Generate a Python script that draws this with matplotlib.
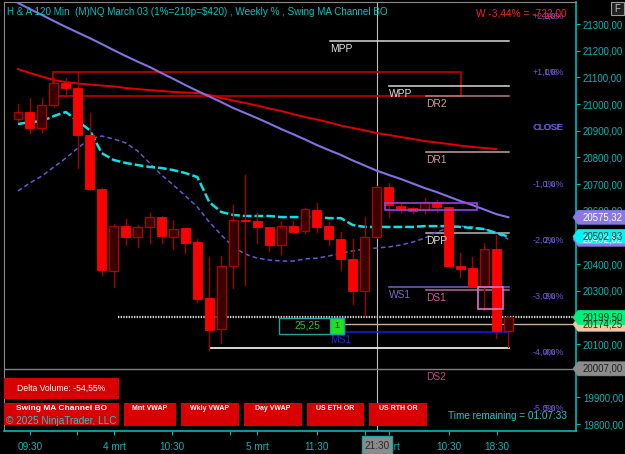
import matplotlib
matplotlib.use('Agg')
import matplotlib.pyplot as plt
from matplotlib.patches import Rectangle, Polygon

plt.rcParams['font.family'] = ['Liberation Sans', 'DejaVu Sans']

# ---------------- data (120 min bars) ----------------
opens = [20944, 20970, 20910, 20996, 21079, 21060, 20884, 20681, 20374, 20543,
         20501, 20539, 20576, 20501, 20535, 20483, 20273, 20156, 20393, 20565,
         20561, 20539, 20471, 20543, 20524, 20603, 20543, 20494, 20419, 20299,
         20501, 20689, 20618, 20610, 20602, 20633, 20614, 20393, 20385, 20314,
         20456, 20149]
highs = [21000, 21022, 21022, 21098, 21098, 21120, 20966, 20685, 20550, 20569,
         20546, 20591, 20580, 20565, 20535, 20494, 20426, 20430, 20621, 20734,
         20591, 20539, 20561, 20561, 20610, 20629, 20558, 20520, 20494, 20576,
         20692, 20704, 20629, 20614, 20648, 20640, 20614, 20441, 20426, 20479,
         20509, 20205]
lows = [20936, 20891, 20895, 20989, 21034, 20760, 20678, 20359, 20314, 20471,
        20464, 20479, 20479, 20456, 20441, 20258, 20078, 20104, 20310, 20321,
        20479, 20449, 20438, 20516, 20516, 20520, 20471, 20378, 20250, 20209,
        20497, 20576, 20595, 20591, 20591, 20595, 20389, 20351, 20314, 20228,
        20123, 20089]
closes = [20970, 20910, 20996, 21079, 21060, 20884, 20681, 20378, 20543, 20501,
          20539, 20576, 20505, 20531, 20479, 20269, 20153, 20393, 20565, 20562,
          20539, 20471, 20543, 20520, 20606, 20539, 20494, 20419, 20299, 20501,
          20689, 20621, 20606, 20599, 20633, 20614, 20393, 20381, 20314, 20456,
          20149, 20199.5]

ma_cyan = [20925, 20932, 20936, 20955, 20970, 20936, 20902, 20816, 20790, 20779,
           20771, 20764, 20760, 20752, 20741, 20726, 20632, 20595, 20584, 20580,
           20580, 20580, 20576, 20576, 20576, 20576, 20572, 20572, 20546, 20539,
           20539, 20539, 20539, 20539, 20542, 20542, 20542, 20539, 20535, 20531,
           20516, 20502.93]
ma_slow_dash = [20674, 20704, 20730, 20764, 20797, 20835, 20869, 20880, 20869, 20854,
                20824, 20779, 20734, 20696, 20655, 20614, 20557, 20509, 20464, 20437,
                20422, 20415, 20411, 20411, 20419, 20422, 20430, 20441, 20449, 20456,
                20460, 20464, 20471, 20482, 20497, 20520, 20535, 20542, 20539, 20531,
                20516, 20492.82]
ma_trend = [21379, 21356, 21334, 21311, 21289, 21268, 21247, 21225, 21202, 21180,
            21159, 21139, 21116, 21094, 21071, 21049, 21028, 21007, 20985, 20966,
            20947, 20927, 20906, 20887, 20867, 20846, 20827, 20809, 20788, 20769,
            20750, 20734, 20719, 20702, 20685, 20670, 20653, 20636, 20621, 20604,
            20587, 20575.32]
ma_red = [21131, 21116, 21103, 21090, 21082, 21077, 21073, 21069, 21066, 21060,
          21056, 21052, 21049, 21045, 21043, 21041, 21034, 21022, 21013, 21004,
          20994, 20983, 20974, 20962, 20951, 20942, 20931, 20919, 20910, 20901,
          20891, 20884, 20876, 20869, 20861, 20856, 20850, 20844, 20839, 20835,
          20831]

# pivot levels: name, price, start bar, line colour, label colour
level_names = ['MPP', 'WPP', 'DR2', 'DR1', 'DPP', 'WS1', 'DS1', 'MS1', 'DS2']
level_prices = [21236, 21067.5, 21030, 20820, 20516, 20314, 20302.5, 20145, 20007]
level_starts = [26.1, 31.0, 34.1, 34.1, 34.1, 31.0, 34.1, 26.1, 34.1]
level_colors = ['#d8d8d8', '#d8d8d8', '#b08080', '#c8a0a0', '#b8b8b8', '#7060c8',
                '#c060a0', '#1020e8', '#808080']
label_colors = ['#e0e0e0', '#e0e0e0', '#d09a9a', '#d09a9a', '#e0e0e0', '#7a68d0',
                '#c8589a', '#1a2ae0', '#c04888']
level_end = 41.05

week_close = 20910
pct_steps = [2, 1, 0, -1, -2, -3, -4, -5]
pct_text = ['+2,0%', '+1,0%', 'CLOSE', '-1,0%', '-2,0%', '-3,0%', '-4,0%', '-5,0%']
pct_points = 210

last_price = 20199.5
tan_level = 20174.25
swing_low = 20085
cross_price = 20007
cross_bar = 30.0

ytick_vals = list(range(19800, 21301, 100))
xtick_pos = [1.0, 4.93, 8.03, 12.9, 17.73, 20.0, 25.0, 29.0, 31.0, 36.04, 40.05]
xtick_lab = ['09:30', '', '4 mrt', '10:30', '', '5 mrt', '11:30', '', '6 mrt', '10:30', '18:30']

tags = [(20575.32, '20575,32', '#8a78e6', '#ffffff'),
        (20492.82, '20492,82', '#8a78e6', '#ffffff'),
        (20502.93, '20502,93', '#00f4f4', '#003a3a'),
        (20174.25, '20174,25', '#f2c8a0', '#3a2a1a'),
        (20199.50, '20199,50', '#00f080', '#002a10'),
        (20007.00, '20007,00', '#8c8c8c', '#202020')]

# ---------------- figure ----------------
W, H = 625, 454
fig = plt.figure(figsize=(6.25, 4.54), dpi=100, facecolor='black')


def fx(x):
    return x / W


def fy(y):
    return 1 - y / H


ax = fig.add_axes([fx(4), fy(431), (576 - 4) / W, (431 - 2) / H])
ax.set_facecolor('black')
ax.set_xlim(-1.17, 46.66)
ax.set_ylim(19773.75, 21382.5)

cyan = '#00b8b8'
for s in ['left', 'top']:
    ax.spines[s].set_color('#8a8a8a')
for s in ['right', 'bottom']:
    ax.spines[s].set_color(cyan)
    ax.spines[s].set_linewidth(1.2)

ax.yaxis.tick_right()
ax.set_yticks(ytick_vals)
ax.set_yticklabels([f"{v:.2f}".replace('.', ',') for v in ytick_vals])
ax.tick_params(axis='y', colors=cyan, labelsize=6.9, length=3, pad=2, width=0.8)
ax.set_xticks(xtick_pos)
ax.set_xticklabels(xtick_lab)
ax.tick_params(axis='x', colors=cyan, labelsize=7.2, length=3, pad=5, width=0.8)

# crosshair
ax.axvline(cross_bar, color='#bdbdbd', lw=0.8, zorder=1)
ax.axhline(cross_price, color='#808080', lw=1.0, zorder=1)

# red box
ax.add_patch(Rectangle((2.93, 21030), 37.04 - 2.93, 21120 - 21030, fill=False,
                       ec='#c00000', lw=1.2, zorder=2))

# moving averages
n = len(opens)
ax.plot(range(len(ma_red)), ma_red, color='#e00000', lw=1.4, zorder=3)
ax.plot(range(n), ma_trend, color='#8470e0', lw=1.5, zorder=3)
ax.plot(range(n), ma_slow_dash, color='#6a55d0', lw=1.1, ls=(0, (3, 2)), zorder=3)
ax.plot(range(n), ma_cyan, color='#10e0e0', lw=1.8, ls=(0, (3.5, 1.2)), zorder=3)

# levels
for name, p, s, lc, tc in zip(level_names, level_prices, level_starts, level_colors, label_colors):
    if name != 'DS2':
        ax.plot([s, level_end], [p, p], color=lc, lw=1.1, zorder=2)
    ax.annotate(name, (s, p), xytext=(0, -2), textcoords='offset points',
                color=tc, fontsize=7.4, ha='left', va='top', zorder=6)

ax.plot([22, 46.66], [tan_level, tan_level], color='#c8b090', lw=1.0, zorder=2)
ax.plot([16.05, level_end], [swing_low, swing_low], color='#e8e8e8', lw=1.3, zorder=2)
ax.plot([8.36, 46.66], [last_price, last_price], color='#d8d8d8', lw=1.6,
        ls=(0, (0.6, 0.6)), zorder=4)

# purple and pink boxes
ax.add_patch(Rectangle((30.7, 20602.5), 38.4 - 30.7, 20629 - 20602.5, fill=False,
                       ec='#9a40e0', lw=1.2, zorder=5))
ax.add_patch(Rectangle((38.5, 20231), 40.55 - 38.5, 20314 - 20231, fill=False,
                       ec='#e070c8', lw=1.2, zorder=5))

# candles
bw = 0.75
for i, (o, h, l, c) in enumerate(zip(opens, highs, lows, closes)):
    up = c >= o
    ax.plot([i, i], [l, h], color='#a00000', lw=1.0, zorder=4)
    lo, hi = min(o, c), max(o, c)
    if hi - lo < 2:
        hi = lo + 2
    if up:
        ax.add_patch(Rectangle((i - bw / 2, lo), bw, hi - lo, fc='#3a0000',
                               ec='#b00000', lw=0.9, zorder=4.5))
    else:
        ax.add_patch(Rectangle((i - bw / 2, lo), bw, hi - lo, fc='#ff0000',
                               ec='#ff0000', lw=0.6, zorder=4.5))

# position box
ax.add_patch(Rectangle((21.8, 20137.5), 27.26 - 21.8, 20197.5 - 20137.5, fc='black',
                       ec='#20a0a0', lw=1.0, zorder=6))
ax.text(24.2, 20167.5, '25,25', color='#30c030', fontsize=7.4, ha='center', va='center', zorder=7)
ax.add_patch(Rectangle((26.1, 20137.5), 27.26 - 26.1, 20197.5 - 20137.5, fc='#20e020',
                       ec='#20a0a0', lw=1.0, zorder=7))
ax.text(26.68, 20167.5, '1', color='#003000', fontsize=6.5, ha='center', va='center', zorder=8)

# weekly percent labels
pc = '#6a58d8'
for st, t in zip(pct_steps, pct_text):
    p = week_close + st * pct_points
    ax.text(43.0, p, t, color=pc, fontsize=6.4, ha='left', va='center', zorder=6)
    t2 = t[1:] if t != 'CLOSE' else 'CLOSE'
    ax.text(45.65, p, t2, color=pc, fontsize=6.4, ha='right', va='center', zorder=6)

fig.text(fx(567), fy(14), 'W -3,44% = -722,00', color='#ff2020', fontsize=7.3,
         ha='right', va='center')

# title
fig.text(fx(7), fy(12), 'H & A 120 Min  (M)NQ March 03 (1%=210p=$420) , Weekly % , Swing MA Channel BO',
         color='#00c4c4', fontsize=7.1, ha='left', va='center')

# F button
fig.add_artist(Rectangle((fx(611), fy(15)), 13 / W, 13 / H, transform=fig.transFigure,
                         fc='#202020', ec='#9a9a9a', lw=0.8))
fig.text(fx(617.5), fy(8.5), 'F', color='#c0c0c0', fontsize=7, ha='center', va='center')

# price tags
for p, t, fc, tc in tags:
    y = 24 + (21300 - p) / 3.75
    poly = Polygon([(fx(573), fy(y)), (fx(578), fy(y - 7)), (fx(625), fy(y - 7)),
                    (fx(625), fy(y + 7)), (fx(578), fy(y + 7))], closed=True,
                   transform=fig.transFigure, fc=fc, ec=fc, lw=0.5)
    fig.add_artist(poly)
    fig.text(fx(623), fy(y), t, color=tc, fontsize=6.9, ha='right', va='center')

# crosshair x label
fig.add_artist(Rectangle((fx(362), fy(454)), 30 / W, 18 / H, transform=fig.transFigure,
                         fc='#8a8a8a', ec='#20a0a0', lw=1.0))
fig.text(fx(377), fy(446), '21:30', color='#2a2a2a', fontsize=7.2, ha='center', va='center')

# bottom panel boxes
red = '#d80000'
fig.add_artist(Rectangle((fx(4), fy(399)), 115 / W, 21 / H, transform=fig.transFigure,
                         fc=red, ec='none'))
fig.text(fx(61.5), fy(388.5), 'Delta Volume: -54,55%', color='white', fontsize=6.2,
         ha='center', va='center')
fig.add_artist(Rectangle((fx(4), fy(425)), 115 / W, 22 / H, transform=fig.transFigure,
                         fc=red, ec='none'))
fig.text(fx(61.5), fy(409), 'Swing MA Channel BO', color='white', fontsize=6.0,
         ha='center', va='center', fontweight='bold')
fig.text(fx(61.5), fy(421), '\u00a9 2025 NinjaTrader, LLC', color='#20c8c8', fontsize=7.2,
         ha='center', va='center')

btn_names = ['Mnt VWAP', 'Wkly VWAP', 'Day VWAP', 'US ETH OR', 'US RTH OR']
btn_x = [(124, 176), (181, 239), (244, 302), (307, 364), (369, 427)]
for name, (x0, x1) in zip(btn_names, btn_x):
    fig.add_artist(Rectangle((fx(x0), fy(426)), (x1 - x0) / W, 23 / H,
                             transform=fig.transFigure, fc=red, ec='none'))
    fig.text(fx((x0 + x1) / 2), fy(408), name, color='white', fontsize=5.0,
             ha='center', va='center', fontweight='bold')

fig.text(fx(567), fy(416), 'Time remaining = 01:07:33', color='#20c8c8', fontsize=7.2,
         ha='right', va='center')

fig.savefig('out.png', dpi=100, facecolor='black')
